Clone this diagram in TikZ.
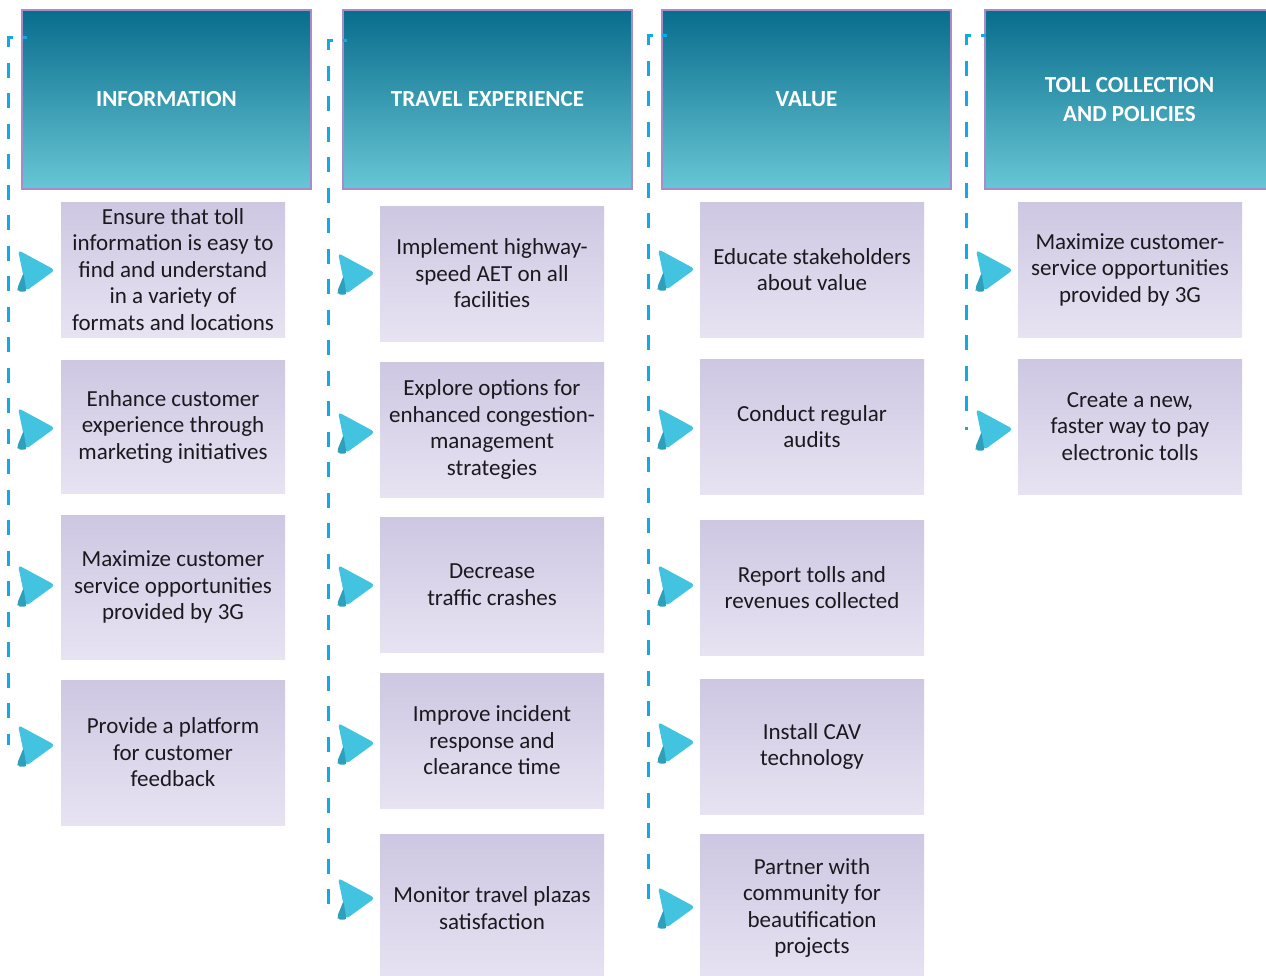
\documentclass[tikz,border=0pt]{standalone}
\usepackage{fontspec}
\setmainfont{Carlito}
\begin{document}
\definecolor{headtop}{RGB}{8,108,140}
\definecolor{headbot}{RGB}{104,199,213}
\definecolor{headrim}{RGB}{166,140,200}
\definecolor{boxtop}{RGB}{205,199,226}
\definecolor{boxbot}{RGB}{231,227,242}
\definecolor{trunk}{RGB}{16,170,232}
\definecolor{marklight}{RGB}{66,196,224}
\definecolor{markdark}{RGB}{46,160,188}
\definecolor{bodytext}{RGB}{26,26,30}
\begin{tikzpicture}[x=1pt,y=-1pt,
  headbox/.style={draw=headrim, line width=2.5pt, top color=headtop, bottom color=headbot,
    minimum width=289pt, minimum height=179pt, inner sep=0pt, text=white,
    font=\bfseries\fontsize{23}{29}\selectfont, align=center},
  itembox/.style={top color=boxtop, bottom color=boxbot, draw=none,
    minimum width=224pt, minimum height=135pt, inner sep=0pt, text=bodytext,
    font=\fontsize{23}{26.5}\selectfont, align=center},
  trunkline/.style={draw=trunk, line width=3pt, dash pattern=on 15pt off 15.5pt},
  trunkstub/.style={draw=trunk, line width=3pt},
  playmark/.pic={
    \fill[marklight, rounded corners=3.5pt] (1,-20) -- (38,0) -- (9,21) -- (6,4) -- cycle;
    \fill[markdark, rounded corners=2pt] (6.5,3) -- (9.5,21.5) -- (1,21.5) -- (0,19) -- cycle;
  }]
\clip (0,0) rectangle (1266,975);

% column headers
\node[headbox] (h1) at (166.5,99.5) {INFORMATION};
\node[headbox] (h2) at (487.5,99.5) {TRAVEL EXPERIENCE};
\node[headbox] (h3) at (806.5,99.5) {VALUE};
\node[headbox] (h4) at (1129.5,99.5) {TOLL COLLECTION\\AND POLICIES};

% dashed trunks running down each column (start stub, elbow, run)
\coordinate (s1a) at (27,37);  \coordinate (s1b) at (23,37);
\coordinate (t1s) at (13,37);  \coordinate (t1c) at (8,37);   \coordinate (t1e) at (8,745);
\coordinate (s2a) at (347,40); \coordinate (s2b) at (343,40);
\coordinate (t2s) at (333,40); \coordinate (t2c) at (328,40); \coordinate (t2e) at (328,905);
\coordinate (s3a) at (667,35); \coordinate (s3b) at (662,35);
\coordinate (t3s) at (653,35); \coordinate (t3c) at (648,35); \coordinate (t3e) at (648,905);
\coordinate (s4a) at (986,35); \coordinate (s4b) at (981,35);
\coordinate (t4s) at (971,35); \coordinate (t4c) at (966,35); \coordinate (t4e) at (966,430);
\foreach \k in {1,2,3,4}{
  \draw[trunkstub] (s\k a) -- (s\k b);
  \draw[trunkline] (t\k s) -- (t\k c) -- (t\k e);
}

% INFORMATION
\node[itembox] (a1) at (173,269.5) {Ensure that toll\\information is easy to\\find and understand\\in a variety of\\formats and locations};
\node[itembox, minimum height=133pt] (a2) at (173,426.5) {Enhance customer\\experience through\\marketing initiatives};
\node[itembox, minimum height=144pt] (a3) at (173,587) {Maximize customer\\service opportunities\\provided by 3G};
\node[itembox, minimum height=145pt] (a4) at (173,752.5) {Provide a platform\\for customer\\feedback};

% TRAVEL EXPERIENCE
\node[itembox] (b1) at (492,273.5) {Implement highway-\\speed AET on all\\facilities};
\node[itembox] (b2) at (492,429.5) {Explore options for\\enhanced congestion-\\management\\strategies};
\node[itembox] (b3) at (492,584.5) {Decrease\\traffic crashes};
\node[itembox] (b4) at (492,740.5) {Improve incident\\response and\\clearance time};
\node[itembox, minimum height=148pt] (b5) at (492,908) {Monitor travel plazas\\satisfaction};

% VALUE
\node[itembox] (c1) at (812,269.5) {Educate stakeholders\\about value};
\node[itembox] (c2) at (812,426.5) {Conduct regular\\audits};
\node[itembox] (c3) at (812,587.5) {Report tolls and\\revenues collected};
\node[itembox] (c4) at (812,746.5) {Install CAV\\technology};
\node[itembox, minimum height=148pt] (c5) at (812,908) {Partner with\\community for\\beautification\\projects};

% TOLL COLLECTION AND POLICIES
\node[itembox] (d1) at (1130,269.5) {Maximize customer-\\service opportunities\\provided by 3G};
\node[itembox] (d2) at (1130,426.5) {Create a new,\\faster way to pay\\electronic tolls};

% play markers on the trunks
\pic at (17,270) {playmark};
\pic at (17,428) {playmark};
\pic at (17,585) {playmark};
\pic at (17,745) {playmark};
\pic at (337,273) {playmark};
\pic at (337,432) {playmark};
\pic at (337,585) {playmark};
\pic at (337,743) {playmark};
\pic at (337,898) {playmark};
\pic at (657,269) {playmark};
\pic at (657,428) {playmark};
\pic at (657,585) {playmark};
\pic at (657,742) {playmark};
\pic at (657,907) {playmark};
\pic at (975,270) {playmark};
\pic at (975,429) {playmark};
\end{tikzpicture}
\end{document}
